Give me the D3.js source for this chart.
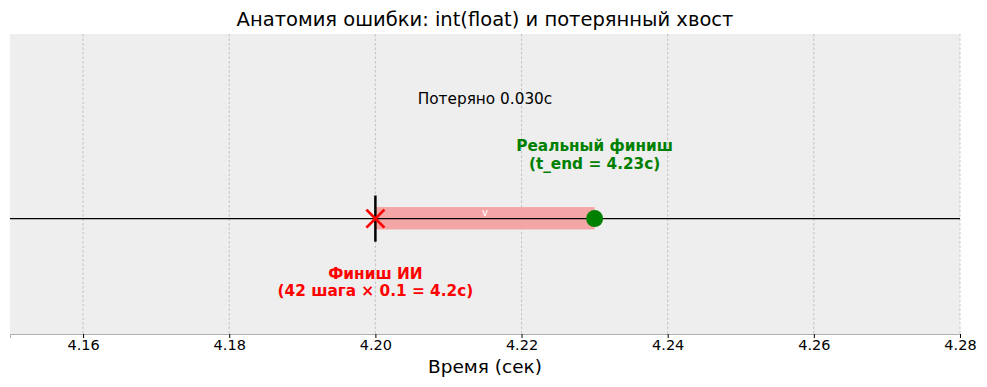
<!DOCTYPE html>
<html>
<head>
<meta charset="utf-8">
<script src="https://cdn.jsdelivr.net/npm/d3@7"></script>
<style>
  body { margin: 0; background: #fff; }
  text { font-family: "DejaVu Sans", sans-serif; }
</style>
</head>
<body>
<div id="chart"></div>
<script>
// values
var xTicks = [4.16, 4.18, 4.20, 4.22, 4.24, 4.26, 4.28];
var aiFinish = 4.20;      // 42 steps * 0.1
var realFinish = 4.23;    // t_end
var lost = [{ from: aiFinish, to: realFinish }];
var labels = [
  { x: 4.215, y: 0.52, text: ['Потеряно 0.030с'], color: '#000', bold: false },
  { x: 4.23, y: 0.293, text: ['Реальный финиш', '(t_end = 4.23с)'], color: 'green', bold: true },
  { x: 4.20, y: -0.26, text: ['Финиш ИИ', '(42 шага × 0.1 = 4.2с)'], color: 'red', bold: true }
];

var size = {
  width: 987,
  height: 387,
  margin: { top: 34, right: 27, bottom: 53, left: 10 }
};
var margin = size.margin;
var width = size.width - margin.left - margin.right;
var height = size.height - margin.top - margin.bottom;

var x = d3.scaleLinear()
  .domain([4.15, 4.28])
  .range([0, width]);
var y = d3.scaleLinear()
  .domain([-0.5, 0.8])
  .range([height, 0]);

var svg = d3.select('#chart').append('svg')
  .attr('width', size.width)
  .attr('height', size.height);

svg.append('text')
  .attr('x', margin.left + width / 2)
  .attr('y', 26)
  .attr('text-anchor', 'middle')
  .style('font-size', '19.5px')
  .text('Анатомия ошибки: int(float) и потерянный хвост');

var chart = svg.append('g')
  .attr('transform', `translate(${margin.left}, ${margin.top})`);

chart.append('rect')
  .attr('width', width)
  .attr('height', height)
  .attr('fill', '#eeeeee');

// grid
chart.selectAll('.grid')
  .data(xTicks)
  .enter().append('line')
  .attr('x1', d => x(d))
  .attr('x2', d => x(d))
  .attr('y1', 0)
  .attr('y2', height)
  .attr('stroke', '#b8b8b8')
  .attr('stroke-width', 0.8)
  .attr('stroke-dasharray', '2.5,2');

// lost tail bar
chart.selectAll('.bar')
  .data(lost)
  .enter().append('rect')
  .attr('x', d => x(d.from))
  .attr('width', d => x(d.to) - x(d.from))
  .attr('y', y(0.05))
  .attr('height', y(-0.047) - y(0.05))
  .attr('fill', '#f4a6a6');

chart.append('text')
  .attr('x', x((aiFinish + realFinish) / 2))
  .attr('y', y(0.01))
  .attr('text-anchor', 'middle')
  .attr('fill', '#ffffff')
  .style('font-size', '10px')
  .text('v');

// base line
chart.append('line')
  .attr('x1', 0).attr('x2', width)
  .attr('y1', y(0)).attr('y2', y(0))
  .attr('stroke', '#000')
  .attr('stroke-width', 1.3);

// AI finish tick
chart.append('line')
  .attr('x1', x(aiFinish)).attr('x2', x(aiFinish))
  .attr('y1', y(0.1)).attr('y2', y(-0.1))
  .attr('stroke', '#000')
  .attr('stroke-width', 2.5);

// red X marker
var s = 9;
chart.append('path')
  .attr('d', `M${x(aiFinish) - s},${y(0) - s}L${x(aiFinish) + s},${y(0) + s}M${x(aiFinish) - s},${y(0) + s}L${x(aiFinish) + s},${y(0) - s}`)
  .attr('stroke', 'red')
  .attr('stroke-width', 2.8)
  .attr('fill', 'none');

// real finish dot
chart.append('circle')
  .attr('cx', x(realFinish))
  .attr('cy', y(0))
  .attr('r', 8.5)
  .attr('fill', 'green');

// annotations
labels.forEach(function (l) {
  var t = chart.append('text')
    .attr('x', x(l.x))
    .attr('y', y(l.y))
    .attr('text-anchor', 'middle')
    .attr('fill', l.color)
    .style('font-size', '15.3px')
    .style('font-weight', l.bold ? 'bold' : 'normal');
  l.text.forEach(function (line, i) {
    t.append('tspan')
      .attr('x', x(l.x))
      .attr('dy', i === 0 ? (l.text.length > 1 ? '0' : '0.35em') : '1.15em')
      .text(line);
  });
});

// x axis
var xAxis = d3.axisBottom(x)
  .tickValues(xTicks)
  .tickFormat(d3.format('.2f'))
  .tickSize(4);

var gx = chart.append('g')
  .attr('transform', `translate(0, ${height})`)
  .call(xAxis);
gx.select('.domain').attr('stroke', '#b0b0b0');
gx.selectAll('.tick line').attr('stroke', '#000');
gx.selectAll('.tick text')
  .attr('y', 16)
  .attr('dy', '0')
  .attr('fill', '#000')
  .style('font-size', '14.5px')
  .style('font-family', '"DejaVu Sans", sans-serif');

svg.append('text')
  .attr('x', margin.left + width / 2)
  .attr('y', 373)
  .attr('text-anchor', 'middle')
  .style('font-size', '18.5px')
  .text('Время (сек)');
</script>
</body>
</html>
